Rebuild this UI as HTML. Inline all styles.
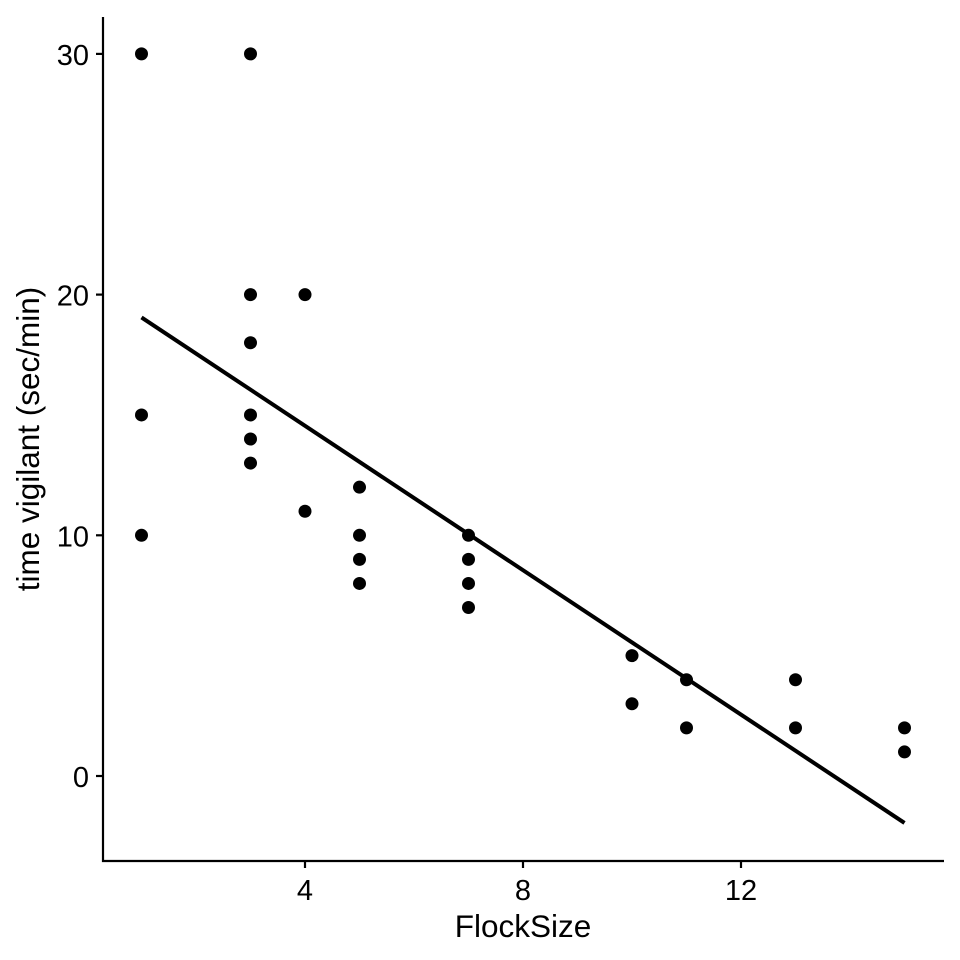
<!DOCTYPE html>
<html><head><meta charset="utf-8"><style>body{margin:0;background:#fff}svg{display:block}text{font-family:"Liberation Sans",sans-serif}</style></head>
<body>
<svg id="chart" width="960" height="960" xmlns="http://www.w3.org/2000/svg"></svg>
<script>
const xs=[1,1,1,3,3,3,3,3,3,4,4,5,5,5,5,7,7,7,7,10,10,11,11,13,13,15,15];
const ys=[30,15,10,30,20,18,15,14,13,20,11,12,10,9,8,10,9,8,7,5,3,4,2,4,2,2,1];
const fitX=[1,15];
const fitY=[19.05,-1.95];
const xTicks=[4,8,12];
const yTicks=[0,10,20,30];
const svg=document.getElementById('chart');
const NS='http://www.w3.org/2000/svg';
const X=v=>141.5+(v-1)*54.5;
const Y=v=>776-v*24.07;
function mk(t,a,p){const e=document.createElementNS(NS,t);for(const k in a)e.setAttribute(k,a[k]);(p||svg).appendChild(e);return e;}
let g=mk('g',{});


xs.forEach((x,i)=>{const c=mk('circle',{cx:X(x),cy:Y(ys[i]),r:6.5,fill:'#000'},g);

});
const l=mk('line',{x1:X(fitX[0]),y1:Y(fitY[0]),x2:X(fitX[1]),y2:Y(fitY[1]),stroke:'#000','stroke-width':4});


const ax=mk('path',{d:'M103,17V861H944',stroke:'#000','stroke-width':2.2,fill:'none'});


xTicks.forEach(t=>{mk('line',{x1:X(t),x2:X(t),y1:861,y2:868,stroke:'#000','stroke-width':2.2});
const e=mk('text',{x:X(t),y:900,'text-anchor':'middle','font-size':29,fill:'#000'});e.textContent=t;

});
yTicks.forEach(t=>{mk('line',{x1:96,x2:103,y1:Y(t),y2:Y(t),stroke:'#000','stroke-width':2.2});
const e=mk('text',{x:89,y:Y(t)+11,'text-anchor':'end','font-size':29,fill:'#000'});e.textContent=t;

});
let xt=mk('text',{x:523,y:937,'text-anchor':'middle','font-size':31.5,fill:'#000'});xt.textContent='FlockSize';


let yt=mk('text',{x:0,y:0,'text-anchor':'middle','font-size':31.5,fill:'#000',transform:'translate(39,439) rotate(-90)'});yt.textContent='time vigilant (sec/min)';


</script>
</body></html>
